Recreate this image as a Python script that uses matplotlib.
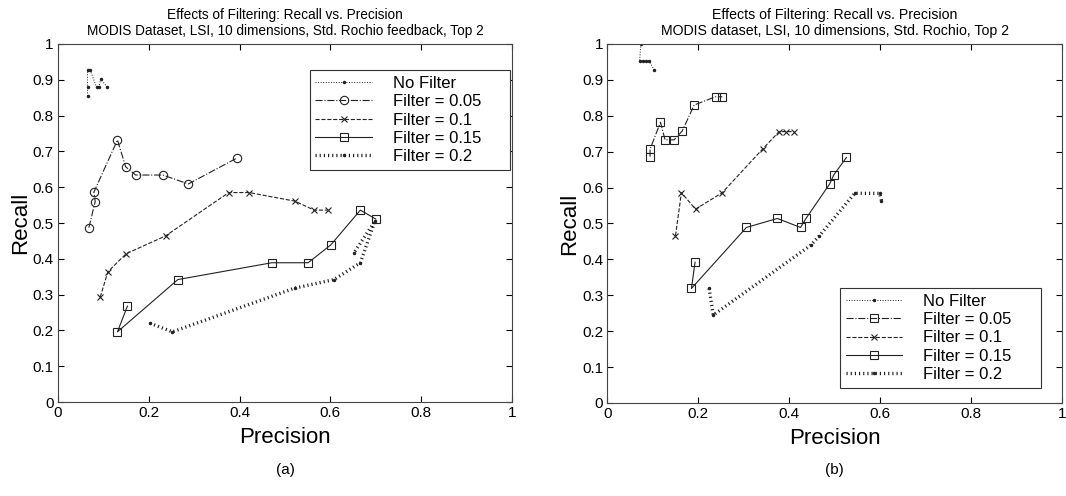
import matplotlib
matplotlib.use('Agg')
import matplotlib.pyplot as plt

plt.rcParams['font.family'] = ['Liberation Sans', 'DejaVu Sans']

labels = ["No Filter", "Filter = 0.05", "Filter = 0.1", "Filter = 0.15", "Filter = 0.2"]

# panel (a): precision / recall per filter level
a_nofilt_p = [0.065, 0.065, 0.065, 0.071, 0.085, 0.090, 0.094, 0.109]
a_nofilt_r = [0.855, 0.879, 0.927, 0.927, 0.879, 0.879, 0.902, 0.879]
a_f05_p = [0.068, 0.082, 0.079, 0.131, 0.149, 0.171, 0.231, 0.287, 0.395]
a_f05_r = [0.487, 0.560, 0.586, 0.732, 0.657, 0.634, 0.634, 0.609, 0.682]
a_f10_p = [0.093, 0.110, 0.150, 0.237, 0.376, 0.421, 0.522, 0.564, 0.594]
a_f10_r = [0.293, 0.364, 0.414, 0.464, 0.585, 0.585, 0.561, 0.536, 0.536]
a_f15_p = [0.153, 0.131, 0.264, 0.471, 0.551, 0.601, 0.666, 0.700]
a_f15_r = [0.268, 0.196, 0.342, 0.389, 0.389, 0.439, 0.536, 0.511]
a_f20_p = [0.203, 0.252, 0.521, 0.608, 0.666, 0.698, 0.651]
a_f20_r = [0.220, 0.196, 0.318, 0.342, 0.389, 0.505, 0.415]

# panel (b)
b_nofilt_p = [0.074, 0.071, 0.078, 0.085, 0.092, 0.103]
b_nofilt_r = [1.000, 0.953, 0.953, 0.953, 0.953, 0.928]
b_f05_p = [0.094, 0.094, 0.117, 0.127, 0.147, 0.165, 0.191, 0.238, 0.253]
b_f05_r = [0.686, 0.707, 0.782, 0.733, 0.733, 0.758, 0.830, 0.853, 0.853]
b_f10_p = [0.150, 0.163, 0.194, 0.253, 0.342, 0.378, 0.394, 0.411]
b_f10_r = [0.466, 0.586, 0.540, 0.586, 0.708, 0.756, 0.756, 0.756]
b_f15_p = [0.193, 0.185, 0.306, 0.374, 0.425, 0.437, 0.489, 0.498, 0.526]
b_f15_r = [0.392, 0.319, 0.489, 0.514, 0.489, 0.514, 0.610, 0.635, 0.684]
b_f20_p = [0.224, 0.233, 0.448, 0.466, 0.544, 0.599, 0.603]
b_f20_r = [0.319, 0.245, 0.440, 0.465, 0.584, 0.584, 0.564]

col = '#222222'
thick_dot = (0, (0.35, 0.9))
pad_txt = "     "  # trailing room inside the legend box, like the original


def draw(ax, series, f05_marker):
    (p0, r0), (p1, r1), (p2, r2), (p3, r3), (p4, r4) = series
    ax.plot(p0, r0, color=col, ls=':', lw=0.7, marker='.', ms=3, label=labels[0] + pad_txt)
    ax.plot(p1, r1, color=col, ls='-.', lw=0.8, marker=f05_marker, ms=6,
            mfc='none', mew=0.8, label=labels[1] + pad_txt)
    ax.plot(p2, r2, color=col, ls='--', lw=0.8, marker='x', ms=5, mew=0.8,
            label=labels[2] + pad_txt)
    ax.plot(p3, r3, color=col, ls='-', lw=0.8, marker='s', ms=5.5,
            mfc='none', mew=0.8, label=labels[3] + pad_txt)
    ax.plot(p4, r4, color=col, ls=thick_dot, lw=2.4, marker='.', ms=3,
            label=labels[4] + pad_txt)
    ax.set_xlim(0, 1)
    ax.set_ylim(0, 1)
    ax.set_xticks([0, 0.2, 0.4, 0.6, 0.8, 1])
    ax.set_xticklabels(["0", "0.2", "0.4", "0.6", "0.8", "1"])
    ax.set_yticks([i / 10 for i in range(11)])
    ax.set_yticklabels(["0"] + ["0.%d" % i for i in range(1, 10)] + ["1"])
    ax.tick_params(direction='in', top=True, right=True, length=4, labelsize=11, pad=3)
    for s in ax.spines.values():
        s.set_linewidth(0.8)
        s.set_color('#444444')
    ax.set_xlabel("Precision", fontsize=16, labelpad=5)
    ax.set_ylabel("Recall", fontsize=16, labelpad=1)


fig = plt.figure(figsize=(10.66, 4.96), dpi=100)
ax1 = fig.add_axes([0.0544, 0.1895, 0.4259, 0.7218])
ax2 = fig.add_axes([0.5697, 0.1875, 0.4265, 0.7238])

draw(ax1, [(a_nofilt_p, a_nofilt_r), (a_f05_p, a_f05_r), (a_f10_p, a_f10_r),
           (a_f15_p, a_f15_r), (a_f20_p, a_f20_r)], 'o')
draw(ax2, [(b_nofilt_p, b_nofilt_r), (b_f05_p, b_f05_r), (b_f10_p, b_f10_r),
           (b_f15_p, b_f15_r), (b_f20_p, b_f20_r)], 's')

ax1.set_title("Effects of Filtering: Recall vs. Precision\n"
              "MODIS Dataset, LSI, 10 dimensions, Std. Rochio feedback, Top 2",
              fontsize=9.8, pad=6.5, linespacing=1.2)
ax2.set_title("Effects of Filtering: Recall vs. Precision\n"
              "MODIS dataset, LSI, 10 dimensions, Std. Rochio, Top 2",
              fontsize=10.2, pad=6.5, linespacing=1.2)

leg_kw = dict(fontsize=12, handlelength=3.4, labelspacing=0.2, handletextpad=1.25,
              borderpad=0.35, fancybox=False, edgecolor='#333333', framealpha=1,
              borderaxespad=0)
l1 = ax1.legend(loc='upper right', bbox_to_anchor=(0.996, 0.927), **leg_kw)
l2 = ax2.legend(loc='lower right', bbox_to_anchor=(0.953, 0.042), **leg_kw)
for l in (l1, l2):
    l.get_frame().set_linewidth(0.8)

fig.text(0.268, 0.045, "(a)", fontsize=11, ha='center')
fig.text(0.783, 0.045, "(b)", fontsize=11, ha='center')

plt.savefig("out.png", dpi=100)
